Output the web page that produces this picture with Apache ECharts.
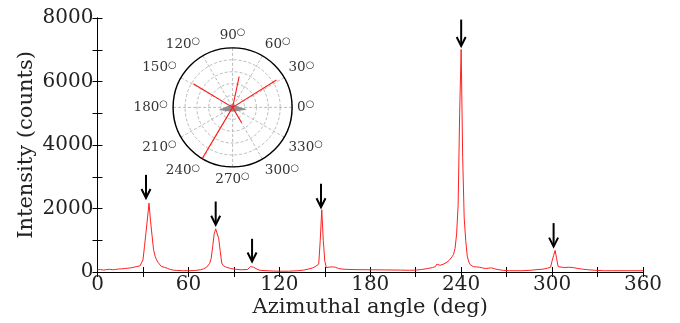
<!DOCTYPE html>
<html>
<head>
<meta charset="utf-8">
<script src="https://cdn.jsdelivr.net/npm/echarts@6/dist/echarts.min.js"></script>
<style>
  html, body { margin: 0; padding: 0; background: #fff; }
  #chart { width: 680px; height: 323px; }
</style>
</head>
<body>
<div id="chart"></div>
<script>
// Azimuthal intensity profile (deg, counts)
const angles = [0, 2, 4, 6, 8, 10, 12, 14, 16, 18, 20, 22, 24, 26, 27, 28, 29, 30, 31, 32, 33, 34, 35, 36, 37, 38, 39, 40, 42, 44, 46, 48, 50, 52, 56, 60, 64, 68, 70, 72, 73, 74, 75, 76, 77, 78, 79, 80, 81, 82, 83, 85, 88, 91, 95, 99, 100, 101, 102, 103, 104, 106, 108, 112, 116, 120, 126, 132, 136, 139, 142, 144, 145, 146, 147, 148, 149, 150, 151, 153, 155, 157, 159, 162, 166, 170, 180, 190, 200, 206, 210, 214, 218, 221, 223, 224, 225, 226, 228, 230, 232, 234, 235, 236, 237, 238, 239, 240, 241, 242, 243, 244, 245, 246, 248, 250, 252, 254, 256, 258, 260, 262, 265, 268, 272, 280, 286, 290, 294, 297, 299, 300, 301, 302, 303, 304, 305, 308, 311, 314, 317, 320, 324, 328, 334, 340, 350, 360];
const intensity = [70, 80, 60, 75, 85, 70, 80, 95, 100, 110, 120, 130, 150, 175, 165, 190, 230, 380, 800, 1250, 1700, 2170, 1600, 1150, 700, 500, 380, 300, 180, 150, 120, 80, 60, 50, 40, 40, 45, 70, 100, 150, 200, 270, 420, 800, 1200, 1360, 1330, 1050, 650, 280, 200, 150, 110, 85, 70, 80, 110, 170, 200, 150, 100, 70, 50, 40, 30, 25, 25, 40, 60, 90, 130, 180, 220, 250, 1000, 1960, 1000, 350, 140, 155, 160, 150, 110, 90, 80, 75, 70, 65, 60, 55, 60, 80, 110, 140, 170, 250, 230, 210, 240, 290, 360, 480, 560, 750, 1200, 2100, 5000, 7010, 3600, 1700, 1000, 500, 320, 230, 170, 160, 150, 130, 110, 120, 130, 100, 70, 50, 40, 40, 55, 75, 90, 120, 150, 350, 520, 680, 420, 170, 130, 140, 150, 140, 110, 90, 70, 55, 40, 40, 40, 40];

// Peak markers: angle, arrow tail, arrow tip (counts)
const arrowAngles = [32, 78, 102, 147.5, 240, 301];
const arrowTails = [3060, 2220, 1045, 2780, 7950, 1540];
const arrowTips = [2330, 1490, 330, 2040, 7120, 800];

// Axis ticks
const xMin = 0, xMax = 360, xStep = 30, xLabelStep = 60;
const yMin = 0, yMax = 8000, yStep = 1000, yLabelStep = 2000;

// Polar inset: spikes (normalised radius, angle in deg)
const polarAngles = [0, 32, 34.2, 0, 78, 0, 149, 149.8, 0, 239.3, 241.2, 0, 300.5, 0];
const polarRadii = [0, 0.87, 0.86, 0, 0.53, 0, 0.77, 0.76, 0, 1.0, 0.99, 0, 0.3, 0];
// Polar inset: grey background lobe outline
const lobeAngles = [100, 190.8, 240, 300, 352];
const lobeRadii = [0.055, 0.24, 0.08, 0.08, 0.243];

const serif = 'DejaVu Serif';
const chart = echarts.init(document.getElementById('chart'), null, { renderer: 'canvas' });

const profile = angles.map((a, i) => [a, intensity[i]]);
const arrows = arrowAngles.map((a, i) => [a, arrowTails[i], arrowTips[i]]);
const spikes = polarAngles.map((a, i) => [polarRadii[i], a]);

const axisLine = { show: true, lineStyle: { color: '#000', width: 1 } };
const inTicks = { show: true, inside: true, length: 5, lineStyle: { color: '#000', width: 1 } };

chart.setOption({
  animation: false,
  backgroundColor: '#fff',
  grid: { left: 97.5, right: 37, top: 18, bottom: 51, containLabel: false, outerBoundsMode: 'none' },
  xAxis: [
    {
      type: 'value', min: xMin, max: xMax, interval: xStep,
      axisLine, axisTick: inTicks, splitLine: { show: false },
      axisLabel: {
        margin: 3, color: '#222', fontFamily: serif, fontSize: 20,
        formatter: v => (v % xLabelStep === 0 ? String(v) : '')
      },
      name: 'Azimuthal angle (deg)', nameLocation: 'middle', nameGap: 25, nameMoveOverlap: false,
      nameTextStyle: { color: '#222', fontFamily: serif, fontSize: 21 }
    },
    {
      type: 'value', position: 'top', min: xMin, max: xMax, interval: xStep,
      axisLine, axisTick: inTicks, axisLabel: { show: false }, splitLine: { show: false }
    }
  ],
  yAxis: [
    {
      type: 'value', min: yMin, max: yMax, interval: yStep,
      axisLine, axisTick: inTicks, splitLine: { show: false },
      axisLabel: {
        margin: 4, color: '#222', fontFamily: serif, fontSize: 20,
        formatter: v => (v % yLabelStep === 0 ? String(v) : '')
      },
      name: 'Intensity (counts)', nameLocation: 'middle', nameGap: 60, nameMoveOverlap: false,
      nameTextStyle: { color: '#222', fontFamily: serif, fontSize: 21 }
    },
    {
      type: 'value', position: 'right', min: yMin, max: yMax, interval: yStep,
      axisLine, axisTick: inTicks, axisLabel: { show: false }, splitLine: { show: false }
    }
  ],
  polar: { center: [232.6, 107.4], radius: 59.5 },
  angleAxis: {
    type: 'value', min: 0, max: 360, interval: 30, startAngle: 0, clockwise: false,
    axisLine: { show: true, lineStyle: { color: '#000', width: 1.4 } },
    axisTick: { show: false },
    splitLine: { show: true, lineStyle: { color: '#aaa', width: 0.8, type: [3, 2] } },
    axisLabel: {
      margin: 5,
      formatter: v => (v === 360 ? '' : '{n|' + v + '}{d|○}'),
      rich: {
        n: { fontFamily: serif, fontSize: 13.5, color: '#333', lineHeight: 15 },
        d: { fontFamily: 'DejaVu Sans', fontSize: 10, color: '#333', lineHeight: 10, verticalAlign: 'top' }
      }
    }
  },
  radiusAxis: {
    type: 'value', min: 0, max: 1, interval: 0.2,
    axisLine: { show: false }, axisTick: { show: false }, axisLabel: { show: false },
    splitLine: { show: true, lineStyle: { color: '#aaa', width: 0.8, type: [3, 2] } }
  },
  series: [
    {
      type: 'line', data: profile, xAxisIndex: 0, yAxisIndex: 0,
      showSymbol: false, symbol: 'none', smooth: false,
      lineStyle: { color: '#ff2020', width: 1 }, z: 3
    },
    {
      type: 'custom', xAxisIndex: 0, yAxisIndex: 0, data: arrows, clip: false, z: 4,
      renderItem: (params, api) => {
        const tail = api.coord([api.value(0), api.value(1)]);
        const tip = api.coord([api.value(0), api.value(2)]);
        return {
          type: 'group',
          children: [
            { type: 'line', shape: { x1: tail[0], y1: tail[1], x2: tip[0], y2: tip[1] - 1 },
              style: { stroke: '#000', lineWidth: 2 } },
            { type: 'polyline', shape: { points: [[tip[0] - 4.5, tip[1] - 9], [tip[0], tip[1]], [tip[0] + 4.5, tip[1] - 9]] },
              style: { stroke: '#000', lineWidth: 2, fill: null } }
          ]
        };
      }
    },
    {
      type: 'custom', coordinateSystem: 'polar', data: [0], z: 5,
      renderItem: (params, api) => {
        const pts = lobeAngles.map((a, i) => api.coord([lobeRadii[i], a]));
        return { type: 'polygon', shape: { points: pts }, style: { fill: '#8c8c8c', stroke: null } };
      }
    },
    {
      type: 'line', coordinateSystem: 'polar', data: spikes,
      showSymbol: false, symbol: 'none',
      lineStyle: { color: '#ff1a1a', width: 1.1 }, z: 6
    }
  ]
});
</script>
</body>
</html>
